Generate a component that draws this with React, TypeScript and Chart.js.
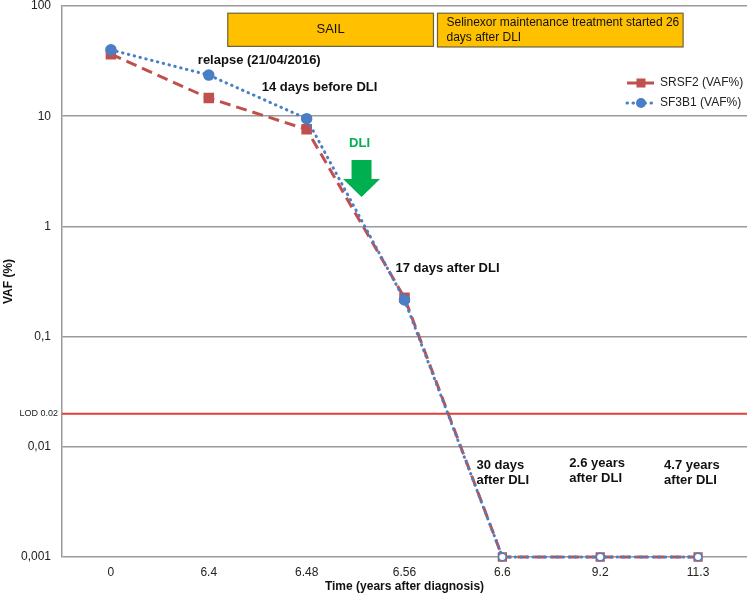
import React, { useEffect, useRef } from "react";
import { Chart, registerables } from "chart.js";

Chart.register(...registerables);

const FONT = "'Liberation Sans', Arial, sans-serif";

// ---- data ----
const categories = ["0", "6.4", "6.48", "6.56", "6.6", "9.2", "11.3"];
const srsf2Values = [36.5, 14.6, 7.6, 0.225, 0.001, 0.001, 0.001];
const sf3b1Values = [40, 23.6, 9.5, 0.215, 0.001, 0.001, 0.001];
const seriesNames = ["SRSF2 (VAF%)", "SF3B1 (VAF%)"];
const yTickValues = [0.001, 0.01, 0.1, 1, 10, 100];
const yTickLabels = ["0,001", "0,01", "0,1", "1", "10", "100"];
const lodValue = 0.02;
const lodLabel = "LOD 0.02";
const xTitle = "Time (years after diagnosis)";
const yTitle = "VAF (%)";

// ---- annotations (in category-index / data units) ----
const treatmentBoxes = [
  { lines: ["SAIL"], xMin: 1.194, xMax: 3.296, yMin: 43, yMax: 86, align: "center", size: 13 },
  {
    lines: ["Selinexor maintenance treatment started 26", "days after DLI"],
    xMin: 3.337, xMax: 5.847, yMin: 42.5, yMax: 86, align: "left", size: 12,
  },
];
const notes = [
  { lines: ["relapse (21/04/2016)"], x: 0.888, y: 32.4, color: "#111" },
  { lines: ["14 days before DLI"], x: 1.541, y: 18.4, color: "#111" },
  { lines: ["17 days after DLI"], x: 2.908, y: 0.419, color: "#111" },
  { lines: ["30 days", "after DLI"], x: 3.735, y: 0.00684, color: "#111" },
  { lines: ["2.6 years", "after DLI"], x: 4.684, y: 0.00713, color: "#111" },
  { lines: ["4.7 years", "after DLI"], x: 5.653, y: 0.00684, color: "#111" },
];
const dliLabel = { text: "DLI", x: 2.541, y: 5.71 };
const dliArrow = { x: 2.561, top: 4.0, headBase: 2.69, tip: 1.85 };

const RED = "#C0504D";
const BLUE = "#4A7EC5";
const GREEN = "#00B050";

const annotationPlugin = {
  id: "customAnnotations",
  beforeDatasetsDraw(chart: any) {
    const { ctx, chartArea, scales } = chart;
    const y = scales.y;
    const py = y.getPixelForValue(lodValue);
    ctx.save();
    ctx.strokeStyle = "#E0413A";
    ctx.lineWidth = 2;
    ctx.beginPath();
    ctx.moveTo(chartArea.left, py);
    ctx.lineTo(chartArea.right, py);
    ctx.stroke();
    ctx.fillStyle = "#222";
    ctx.font = `9px ${FONT}`;
    ctx.textAlign = "right";
    ctx.textBaseline = "middle";
    ctx.fillText(lodLabel, chartArea.left - 4, py);
    ctx.restore();
  },
  afterDatasetsDraw(chart: any) {
    const { ctx, chartArea, scales } = chart;
    const x = scales.x;
    const y = scales.y;
    ctx.save();
    // treatment boxes
    treatmentBoxes.forEach((b) => {
      const l = x.getPixelForValue(b.xMin);
      const r = x.getPixelForValue(b.xMax);
      const t = y.getPixelForValue(b.yMax);
      const bt = y.getPixelForValue(b.yMin);
      ctx.fillStyle = "#FFC000";
      ctx.fillRect(l, t, r - l, bt - t);
      ctx.strokeStyle = "#6f6238";
      ctx.lineWidth = 1.2;
      ctx.strokeRect(l, t, r - l, bt - t);
      ctx.fillStyle = "#111";
      ctx.font = `${b.size}px ${FONT}`;
      ctx.textBaseline = "middle";
      const lh = 15;
      const cy = (t + bt) / 2;
      const y0 = cy - ((b.lines.length - 1) * lh) / 2;
      b.lines.forEach((line, i) => {
        if (b.align === "center") {
          ctx.textAlign = "center";
          ctx.fillText(line, (l + r) / 2, y0 + i * lh);
        } else {
          ctx.textAlign = "left";
          ctx.fillText(line, l + 9, y0 + i * lh);
        }
      });
    });
    // notes
    ctx.font = `bold 13px ${FONT}`;
    ctx.textAlign = "left";
    ctx.textBaseline = "middle";
    notes.forEach((n) => {
      const px = x.getPixelForValue(n.x);
      const py = y.getPixelForValue(n.y);
      ctx.fillStyle = n.color;
      n.lines.forEach((line, i) => ctx.fillText(line, px, py + i * 15));
    });
    // DLI label + arrow
    ctx.fillStyle = GREEN;
    ctx.textAlign = "center";
    ctx.fillText(dliLabel.text, x.getPixelForValue(dliLabel.x), y.getPixelForValue(dliLabel.y));
    const ax = x.getPixelForValue(dliArrow.x);
    const at = y.getPixelForValue(dliArrow.top);
    const ah = y.getPixelForValue(dliArrow.headBase);
    const atip = y.getPixelForValue(dliArrow.tip);
    ctx.beginPath();
    ctx.moveTo(ax - 10, at);
    ctx.lineTo(ax + 10, at);
    ctx.lineTo(ax + 10, ah);
    ctx.lineTo(ax + 18.5, ah);
    ctx.lineTo(ax, atip);
    ctx.lineTo(ax - 18.5, ah);
    ctx.lineTo(ax - 10, ah);
    ctx.closePath();
    ctx.fill();
    // legend
    const lx = chartArea.right - 120;
    const rows = [
      { name: seriesNames[0], color: RED, dash: [11, 6], cap: "butt", style: "rect", y: 83 },
      { name: seriesNames[1], color: BLUE, dash: [0.5, 5.5], cap: "round", style: "circle", y: 103 },
    ];
    rows.forEach((row) => {
      ctx.save();
      ctx.strokeStyle = row.color;
      ctx.lineWidth = 3;
      ctx.setLineDash(row.dash);
      ctx.lineCap = row.cap;
      ctx.beginPath();
      ctx.moveTo(lx, row.y);
      ctx.lineTo(lx + 27, row.y);
      ctx.stroke();
      ctx.restore();
      ctx.fillStyle = row.color;
      if (row.style === "rect") {
        ctx.fillRect(lx + 14 - 4.5, row.y - 4.5, 9, 9);
      } else {
        ctx.beginPath();
        ctx.arc(lx + 14, row.y, 5, 0, Math.PI * 2);
        ctx.fill();
      }
      ctx.fillStyle = "#222";
      ctx.font = `12px ${FONT}`;
      ctx.textAlign = "left";
      ctx.textBaseline = "middle";
      ctx.fillText(row.name, lx + 33, row.y);
    });
    ctx.restore();
  },
};

export default function App() {
  const canvasRef = useRef<HTMLCanvasElement | null>(null);

  useEffect(() => {
    if (!canvasRef.current) return;
    const hollow = (vals: number[], color: string) => vals.map((v) => (v < lodValue ? "#ffffff" : color));
    const chart = new Chart(canvasRef.current, {
      type: "line",
      data: {
        labels: categories,
        datasets: [
          {
            label: seriesNames[0],
            data: srsf2Values,
            borderColor: RED,
            borderWidth: 3,
            borderDash: [11, 6],
            pointStyle: "rect",
            pointRadius: srsf2Values.map((v) => (v < lodValue ? 5.5 : 6.4)),
            pointBackgroundColor: hollow(srsf2Values, RED),
            pointBorderColor: RED,
            pointBorderWidth: 1.5,
            tension: 0,
            clip: false,
            order: 2,
          },
          {
            label: seriesNames[1],
            data: sf3b1Values,
            borderColor: BLUE,
            borderWidth: 3,
            borderDash: [0.5, 5.5],
            borderCapStyle: "round",
            pointStyle: "circle",
            pointRadius: sf3b1Values.map((v) => (v < lodValue ? 3.8 : 5)),
            pointBackgroundColor: hollow(sf3b1Values, BLUE),
            pointBorderColor: BLUE,
            pointBorderWidth: 1.5,
            tension: 0,
            clip: false,
            order: 1,
          },
        ],
      },
      options: {
        responsive: false,
        animation: false,
        layout: { autoPadding: false, padding: { top: 6, right: 2, left: 0, bottom: 0 } },
        plugins: {
          legend: { display: false },
          tooltip: { enabled: false },
        },
        scales: {
          x: {
            type: "category",
            offset: true,
            grid: { display: false, drawTicks: false },
            border: { display: false },
            ticks: {
              color: "#222",
              font: { size: 12, family: FONT },
              padding: 8,
              maxRotation: 0,
              autoSkip: false,
            },
            title: {
              display: true,
              text: xTitle,
              color: "#111",
              font: { size: 12, weight: "bold", family: FONT },
              padding: { top: 0, bottom: 2 },
            },
            afterFit: (s: any) => {
              s.height = 39;
              s.paddingLeft = 0;
              s.paddingRight = 0;
            },
          },
          y: {
            type: "logarithmic",
            min: 0.001,
            max: 100,
            afterBuildTicks: (s: any) => {
              s.ticks = yTickValues.map((v) => ({ value: v }));
            },
            ticks: {
              callback: (_v: any, i: number) => yTickLabels[i],
              color: "#222",
              font: { size: 12, family: FONT },
              padding: 11,
            },
            grid: { color: "#9a9a9a", lineWidth: 1.5, drawTicks: false },
            border: { display: true, color: "#9a9a9a", width: 1.5 },
            title: {
              display: true,
              text: yTitle,
              color: "#111",
              font: { size: 12, weight: "bold", family: FONT },
              padding: { top: 1, bottom: 0 },
            },
            afterFit: (s: any) => {
              s.width = 62;
              s.paddingTop = 0;
              s.paddingBottom = 0;
            },
          },
        },
      } as any,
      plugins: [annotationPlugin as any],
    });
    return () => chart.destroy();
  }, []);

  return (
    <div style={{ position: "fixed", left: 0, top: 0, width: 749, height: 596, background: "#fff" }}>
      <canvas ref={canvasRef} width={749} height={596} style={{ display: "block" }} />
    </div>
  );
}
